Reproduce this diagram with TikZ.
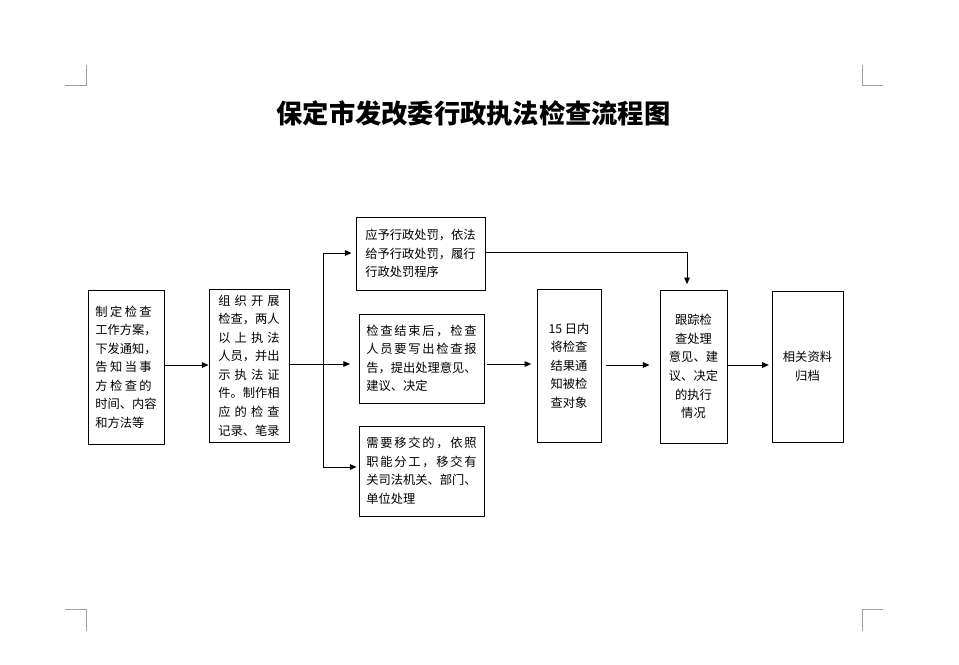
\documentclass[tikz,border=0pt]{standalone}
\usepackage{fontspec}
\setmainfont{Liberation Serif}
\newfontfamily\cjk{Noto Sans CJK SC}
\usetikzlibrary{arrows.meta}
\def\gobbleone#1{}
\def\jusx#1{#1\futurelet\next\jusy}
\def\jusy{\ifx\next\relax\expandafter\gobbleone\else\hfil\expandafter\jusx\fi}
\newcommand\jus[2]{\makebox[#1][s]{\jusx#2\relax}}
\begin{document}
\begin{tikzpicture}[x=0.75pt,y=-0.75pt,
  box/.style={draw, line width=0.75pt, inner sep=0pt,
    font=\cjk\fontsize{9.2}{13.9}\selectfont},
  lbox/.style={box, align=left},
  cbox/.style={box, align=center},
  arr/.style={line width=0.75pt, -{Triangle[length=5pt,width=4.2pt]}},
  cropmark/.style={line width=0.75pt, draw=black!38}
]
\fill[white] (0,0) rectangle (959,664);
\useasboundingbox (0,0) rectangle (959,664);

% corner marks
\draw[cropmark] (65,85) -- (86,85) -- (86,65);
\draw[cropmark] (883,85) -- (862,85) -- (862,65);
\draw[cropmark] (65,609) -- (86,609) -- (86,631);
\draw[cropmark] (883,609) -- (862,609) -- (862,631);

% title
\node (title) at (473.5,113) {\cjk\bfseries\fontsize{19.7}{24}\selectfont 保定市发改委行政执法检查流程图};

% boxes
\node[lbox, minimum width={76*0.75pt}, minimum height={154*0.75pt}] (b1) at (126,367)
 {\jus{4.6em}{制定检查}\\工作方案，\\下发通知，\\\jus{4.6em}{告知当事}\\\jus{4.6em}{方检查的}\\时间、内容\\和方法等};
\node[lbox, minimum width={80*0.75pt}, minimum height={153*0.75pt}] (b2) at (249,365.5)
 {\jus{5em}{组织开展}\\检查，两人\\\jus{5em}{以上执法}\\人员，并出\\\jus{5em}{示执法证}\\件。制作相\\\jus{5em}{应的检查}\\记录、笔录};
\node[lbox, minimum width={129*0.75pt}, minimum height={73*0.75pt}] (b3) at (420.5,253.5)
 {应予行政处罚，依法\\给予行政处罚，履行\\行政处罚程序};
\node[lbox, minimum width={125*0.75pt}, minimum height={89*0.75pt}] (b4) at (421.5,358.5)
 {\jus{9em}{检查结束后，检查}\\\jus{9em}{人员要写出检查报}\\告，提出处理意见、\\建议、决定};
\node[lbox, minimum width={125*0.75pt}, minimum height={90*0.75pt}] (b5) at (421.5,471)
 {\jus{9em}{需要移交的，依照}\\\jus{9em}{职能分工，移交有}\\关司法机关、部门、\\单位处理};
\node[cbox, minimum width={64*0.75pt}, minimum height={153*0.75pt}] (b6) at (569,365.5)
 {15 日内\\将检查\\结果通\\知被检\\查对象};
\node[cbox, minimum width={67*0.75pt}, minimum height={153*0.75pt}] (b7) at (693.5,366.5)
 {跟踪检\\查处理\\意见、建\\议、决定\\的执行\\情况};
\node[cbox, minimum width={71*0.75pt}, minimum height={151*0.75pt}] (b8) at (807.5,366.5)
 {相关资料\\归档};

% helper coordinates
\coordinate (ry) at (0,365);
\coordinate (jt) at (323,253);
\coordinate (jm) at (323,364);
\coordinate (jb) at (323,467);
\coordinate (m4) at (350,364);
\coordinate (c7) at (687,252);

% connectors
\draw[arr] (b1.east |- ry) -- (b2.west |- ry);
\draw[line width=0.75pt] (jt) -- (jb);
\draw[arr] (b2.east |- jm) -- (m4);
\draw[arr, shorten >=3pt] (jt) -- (jt -| b3.west);
\draw[arr, shorten >=1.5pt] (jb) -- (jb -| b5.west);
\draw[arr, shorten >=4pt] (b3.east |- c7) -- (c7) -- (c7 |- b7.north);
\draw[arr, shorten <=2pt, shorten >=4pt] (b4.east |- jm) -- (b6.west |- jm);
\draw[arr, shorten <=3.5pt, shorten >=7.5pt] (b6.east |- ry) -- (b7.west |- ry);
\draw[arr, shorten >=2pt] (b7.east |- ry) -- (b8.west |- ry);
\end{tikzpicture}
\end{document}
